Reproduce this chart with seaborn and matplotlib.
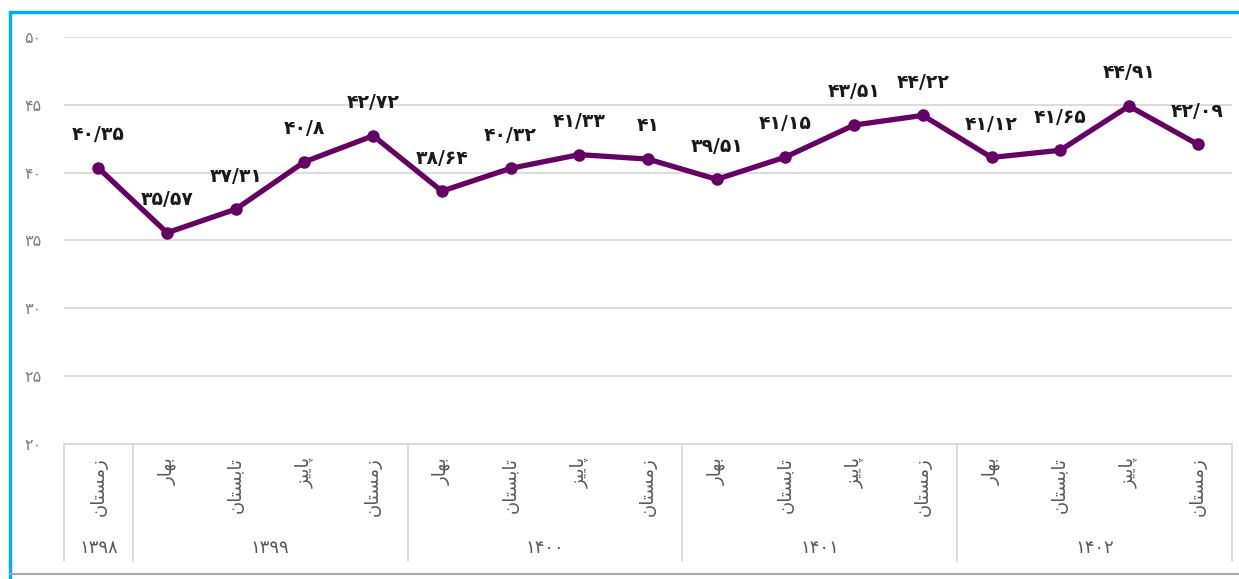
import matplotlib
matplotlib.use("Agg")
import matplotlib.pyplot as plt
import seaborn as sns
import pandas as pd
from matplotlib.lines import Line2D

# ---- data ----
values = [40.35, 35.57, 37.31, 40.8, 42.72, 38.64, 40.32, 41.33, 41.0,
          39.51, 41.15, 43.51, 44.22, 41.12, 41.65, 44.91, 42.09]
value_labels = ["۴۰/۳۵", "۳۵/۵۷", "۳۷/۳۱", "۴۰/۸", "۴۲/۷۲", "۳۸/۶۴", "۴۰/۳۲",
                "۴۱/۳۳", "۴۱", "۳۹/۵۱", "۴۱/۱۵", "۴۳/۵۱", "۴۴/۲۲", "۴۱/۱۲",
                "۴۱/۶۵", "۴۴/۹۱", "۴۲/۰۹"]
# season names written in presentation forms, visual order (matplotlib has no shaping)
spring = "\uFEAD\uFE8E\uFEEC\uFE91"              # بهار
summer = "\uFEE5\uFE8E\uFE98\uFEB4\uFE91\uFE8E\uFE97"  # تابستان
autumn = "\uFEB0\uFEF4\uFEF3\uFE8E\uFB58"        # پاییز
winter = "\uFEE5\uFE8E\uFE98\uFEB4\uFEE3\uFEAF"  # زمستان
seasons = [winter] + [spring, summer, autumn, winter] * 4
years = ["۱۳۹۸", "۱۳۹۹", "۱۴۰۰", "۱۴۰۱", "۱۴۰۲"]
year_sizes = [1, 4, 4, 4, 4]
yticks = [20, 25, 30, 35, 40, 45, 50]
ytick_labels = ["۲۰", "۲۵", "۳۰", "۳۵", "۴۰", "۴۵", "۵۰"]

df = pd.DataFrame({"pos": list(range(len(values))), "value": values})

W, H = 1239, 579
fig = plt.figure(figsize=(W / 100, H / 100), dpi=100)
sns.set_style("white")
plt.rcParams["font.family"] = ["DejaVu Sans"]

left, right, top, bottom = 64, 1232, 37, 444
ax = fig.add_axes([left / W, 1 - bottom / H, (right - left) / W, (bottom - top) / H])

sns.lineplot(data=df, x="pos", y="value", ax=ax, color="#650065", linewidth=3.8,
             marker="o", markersize=9, markeredgewidth=0, legend=False)

n = len(values)
ax.set_xlim(-0.5, n - 0.5)
ax.set_ylim(20, 50)
ax.set_yticks(yticks)
ax.set_yticklabels(ytick_labels, color="#7f7f7f", fontsize=11.5)
ax.tick_params(axis="y", length=0, pad=16)
ax.set_xticks([])
ax.set_xlabel("")
ax.set_ylabel("")
for yv in yticks:
    ax.axhline(yv, color="#d9d9d9", linewidth=1.3, zorder=0)
for s in ["top", "right", "left"]:
    ax.spines[s].set_visible(False)
ax.spines["bottom"].set_color("#d9d9d9")
ax.spines["bottom"].set_linewidth(1.3)

for i, (v, lab) in enumerate(zip(values, value_labels)):
    ax.annotate(lab, (i, v), xytext=(0, 17), textcoords="offset points",
                ha="center", va="bottom", fontsize=13.5, fontweight="bold", color="#1a1a1a")

# category axis: seasons and year groups
trans = ax.get_xaxis_transform()
for i, s in enumerate(seasons):
    ax.text(i, -13 / (bottom - top), s, transform=trans, rotation=90,
            ha="center", va="top", fontsize=13, color="#595959")

start = -0.5
bounds = [start]
for k, sz in zip(years, year_sizes):
    mid = start + sz / 2
    ax.text(mid, -(548 - bottom) / (bottom - top), k, transform=trans,
            ha="center", va="center", fontsize=13, color="#595959")
    start += sz
    bounds.append(start)
for b in bounds:
    ax.add_line(Line2D([b, b], [0, -(561 - bottom) / (bottom - top)], transform=trans,
                       color="#d9d9d9", linewidth=1.3, clip_on=False))

# outer frame pieces
fig.add_artist(Line2D([10 / W, 10 / W], [0, 1 - 12 / H], color="#00b0f0", linewidth=2.5))
fig.add_artist(Line2D([10 / W, 1], [1 - 12 / H, 1 - 12 / H], color="#00b0f0", linewidth=2.5))
fig.add_artist(Line2D([10 / W, 1], [1 - 574 / H, 1 - 574 / H], color="#a6a6a6", linewidth=1.5))

fig.savefig("out.png", dpi=100)
